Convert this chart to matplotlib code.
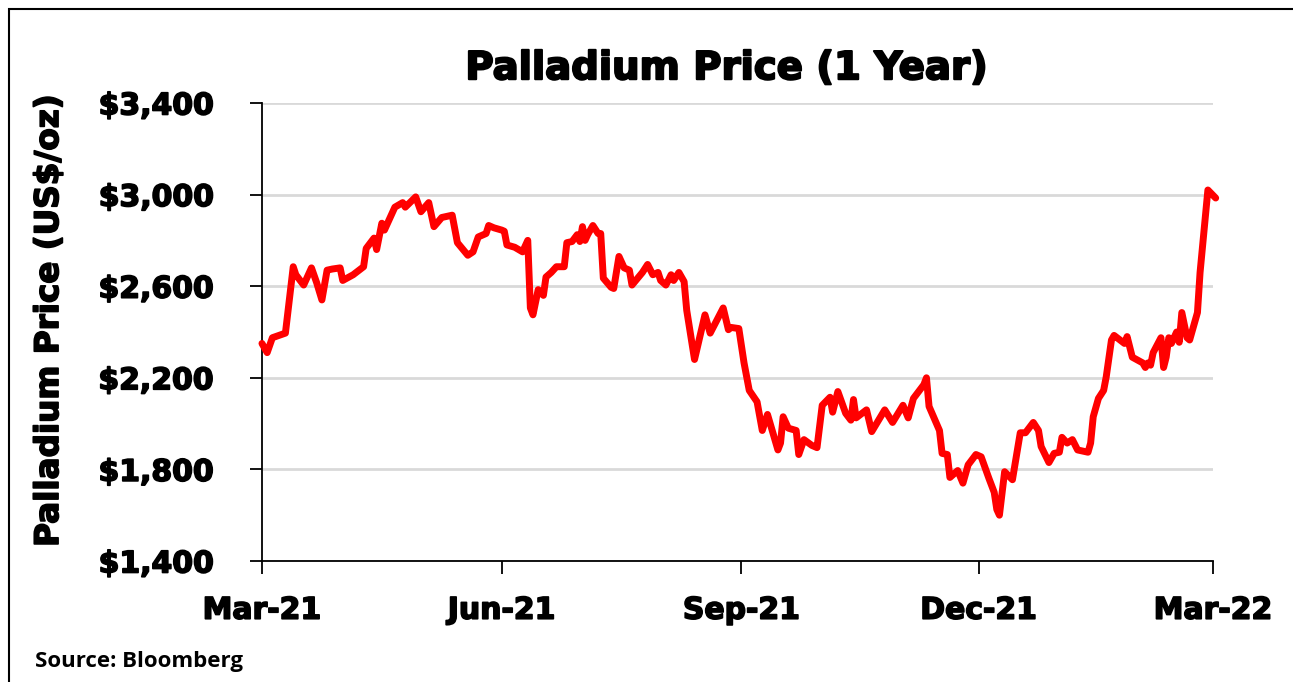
import matplotlib
matplotlib.use('Agg')
import matplotlib.pyplot as plt
import matplotlib.patheffects as pe
from matplotlib.patches import Rectangle
import pandas as pd

# days since 2021-03-01 and palladium price (US$/oz)
days = [0, 2, 4, 9, 12, 13, 16, 19, 21, 23, 25, 27, 30, 31, 35, 39, 40, 43, 44, 46,
        47, 51, 54, 55, 59, 61, 64, 66, 69, 73, 75, 79, 81, 83, 86, 87, 89, 92, 93, 94,
        97, 100, 102, 103, 104, 106, 108, 109, 111, 113, 116, 117, 119, 121, 122, 123, 124, 125, 127, 129,
        130, 131, 134, 135, 137, 139, 141, 142, 146, 148, 150, 152, 153, 155, 157, 158, 160, 162, 163, 166,
        170, 172, 177, 179, 180, 183, 185, 187, 190, 192, 194, 198, 199, 200, 202, 205, 206, 208, 211, 213,
        215, 218, 219, 221, 224, 226, 227, 228, 232, 234, 239, 242, 246, 248, 250, 254, 255, 256, 260, 261,
        263, 264, 267, 269, 271, 274, 276, 279, 281, 282, 283, 285, 288, 291, 293, 296, 298, 299, 302, 304,
        306, 307, 309, 311, 313, 317, 318, 319, 321, 323, 324, 326, 327, 331, 332, 334, 338, 339, 340, 341,
        342, 345, 346, 347, 348, 349, 351, 352, 353, 355, 356, 359, 360, 361, 363, 366]
prices = [2350, 2310, 2375, 2395, 2685, 2650, 2605, 2680, 2615, 2540, 2670, 2675, 2680, 2625, 2650, 2685, 2765, 2810, 2760, 2875,
          2845, 2945, 2965, 2945, 2990, 2925, 2965, 2860, 2900, 2910, 2790, 2735, 2750, 2815, 2830, 2865, 2855, 2845, 2840, 2780,
          2770, 2750, 2800, 2505, 2475, 2585, 2560, 2640, 2660, 2685, 2685, 2790, 2795, 2825, 2795, 2860, 2800, 2825, 2865, 2830,
          2830, 2635, 2595, 2590, 2730, 2680, 2670, 2605, 2660, 2695, 2650, 2660, 2625, 2605, 2650, 2625, 2660, 2620, 2495, 2280,
          2475, 2395, 2505, 2410, 2420, 2415, 2265, 2145, 2095, 1970, 2040, 1885, 1915, 2030, 1980, 1970, 1865, 1930, 1905, 1895,
          2080, 2115, 2050, 2140, 2045, 2015, 2105, 2025, 2060, 1965, 2060, 2005, 2080, 2025, 2110, 2170, 2200, 2075, 1970, 1870,
          1865, 1765, 1795, 1740, 1820, 1865, 1855, 1760, 1700, 1625, 1600, 1790, 1755, 1960, 1960, 2005, 1970, 1900, 1830, 1870,
          1875, 1940, 1915, 1930, 1885, 1875, 1915, 2030, 2110, 2145, 2205, 2365, 2385, 2350, 2380, 2290, 2265, 2245, 2265, 2255,
          2310, 2375, 2245, 2290, 2375, 2350, 2400, 2355, 2485, 2375, 2365, 2485, 2660, 2780, 3020, 2985]

start = pd.Timestamp('2021-03-01')
dates = start + pd.to_timedelta(days, unit='D')

tick_dates = pd.to_datetime(['2021-03-01', '2021-06-01', '2021-09-01', '2021-12-01', '2022-03-01'])
tick_labels = ['Mar-21', 'Jun-21', 'Sep-21', 'Dec-21', 'Mar-22']
y_ticks = [1400, 1800, 2200, 2600, 3000, 3400]

heavy = 'DejaVu Sans'
# fake a black weight by stroking the glyph outlines
fat = [pe.withStroke(linewidth=1.2, foreground='black')]

fig = plt.figure(figsize=(12.93, 6.82), dpi=100)
ax = fig.add_axes([0.2026, 0.1774, 0.7356, 0.6716])

ax.plot(dates, prices, color='#ff0000', lw=5, solid_joinstyle='round',
        solid_capstyle='round', clip_on=False, zorder=3)

ax.set_xlim(tick_dates[0], tick_dates[-1])
ax.set_ylim(1400, 3400)
ax.set_xticks(tick_dates)
ax.set_xticklabels(tick_labels)
ax.set_yticks(y_ticks)
ax.set_yticklabels(['${:,}'.format(v) for v in y_ticks])

ax.grid(axis='y', color='#d9d9d9', lw=2, zorder=0)
ax.set_axisbelow(True)
for s in ['top', 'right']:
    ax.spines[s].set_visible(False)
for s in ['left', 'bottom']:
    ax.spines[s].set_linewidth(1.3)

ax.tick_params(axis='both', direction='out', length=9, width=1.3)
ax.tick_params(axis='y', pad=26)
ax.tick_params(axis='x', pad=16)
for lab in ax.get_xticklabels() + ax.get_yticklabels():
    lab.set_fontfamily(heavy)
    lab.set_fontweight('bold')
    lab.set_fontsize(21.5)
    lab.set_path_effects(fat)

ax.set_ylabel('Palladium Price (US$/oz)', fontfamily=heavy, fontweight='bold',
              fontsize=23.5, path_effects=fat)
ax.yaxis.set_label_coords(-0.207, 0.525)
fig.text(0.562, 0.90, 'Palladium Price (1 Year)', ha='center', va='center',
         fontfamily=heavy, fontweight='bold', fontsize=27.8,
         path_effects=[pe.withStroke(linewidth=1.5, foreground='black')])
fig.text(0.027, 0.03, 'Source: Bloomberg', ha='left', va='center',
         fontfamily=['Open Sans', 'DejaVu Sans'], fontweight='bold', fontsize=16)

fig.patches.append(Rectangle((9 / 1293, -0.05), 1.0, 1 - 9 / 682 + 0.05,
                             transform=fig.transFigure, fill=False,
                             edgecolor='black', lw=1.5, figure=fig))

fig.savefig('out.png', dpi=100)
